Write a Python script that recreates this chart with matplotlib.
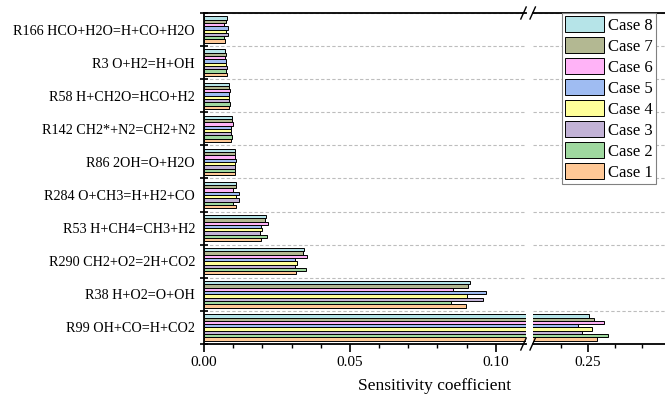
import numpy as np
import matplotlib.pyplot as plt
from matplotlib.lines import Line2D
from matplotlib.ticker import FixedLocator

plt.rcParams["font.family"] = ["Liberation Serif", "DejaVu Serif"]

# bottom -> top
REACTIONS = ["R99 OH+CO=H+CO2", "R38 H+O2=O+OH", "R290 CH2+O2=2H+CO2",
             "R53 H+CH4=CH3+H2", "R284 O+CH3=H+H2+CO", "R86 2OH=O+H2O",
             "R142 CH2*+N2=CH2+N2", "R58 H+CH2O=HCO+H2", "R3 O+H2=H+OH",
             "R166 HCO+H2O=H+CO+H2O"]

case1 = [0.2535, 0.0897, 0.0315, 0.0195, 0.0110, 0.0106, 0.0092, 0.0086, 0.0079, 0.0072]
case2 = [0.2576, 0.0846, 0.0349, 0.0216, 0.0099, 0.0106, 0.0096, 0.0089, 0.0075, 0.0069]
case3 = [0.2478, 0.0955, 0.0312, 0.0192, 0.0120, 0.0106, 0.0092, 0.0086, 0.0079, 0.0082]
case4 = [0.2515, 0.0901, 0.0318, 0.0199, 0.0110, 0.0106, 0.0092, 0.0086, 0.0074, 0.0074]
case5 = [0.2463, 0.0966, 0.0312, 0.0195, 0.0120, 0.0110, 0.0092, 0.0086, 0.0075, 0.0083]
case6 = [0.2559, 0.0853, 0.0353, 0.0219, 0.0099, 0.0106, 0.0099, 0.0089, 0.0071, 0.0069]
case7 = [0.2522, 0.0904, 0.0339, 0.0209, 0.0110, 0.0106, 0.0096, 0.0086, 0.0075, 0.0075]
case8 = [0.2505, 0.0911, 0.0342, 0.0212, 0.0110, 0.0106, 0.0096, 0.0086, 0.0072, 0.0079]

CASES = [case1, case2, case3, case4, case5, case6, case7, case8]
LABELS = ["Case 1", "Case 2", "Case 3", "Case 4", "Case 5", "Case 6", "Case 7", "Case 8"]
COLORS = ["#FFC896", "#9FD89F", "#C2B2D6", "#FFFF99", "#9FBCF2", "#FFB3F7", "#B3B892", "#B6E4E8"]

W, H = 665, 394
fig = plt.figure(figsize=(W / 100, H / 100), dpi=100)

def px_axes(x0, x1, y0, y1):
    # pixel box (y measured from top) -> axes
    return fig.add_axes([x0 / W, 1 - y1 / H, (x1 - x0) / W, (y1 - y0) / H])

ax1 = px_axes(204, 526, 13, 344)
ax2 = px_axes(533, 668, 13, 344)

y = np.arange(len(REACTIONS))
bh = 0.1
handles = []
for ax in (ax1, ax2):
    for i, (vals, col) in enumerate(zip(CASES, COLORS)):
        b = ax.barh(y - 0.35 + i * bh, vals, height=bh, color=col,
                    edgecolor="black", lw=0.7, zorder=3)
        if ax is ax1:
            handles.append(b)
    ax.set_ylim(-0.5, len(REACTIONS) - 0.5)
    ax.yaxis.set_minor_locator(FixedLocator(np.arange(-0.5, len(REACTIONS), 1.0)))
    ax.grid(which="minor", axis="y", ls=(0, (3, 2)), color="#BDBDBD", lw=0.8, zorder=0)
    for s in ax.spines.values():
        s.set_linewidth(1.3)
    ax.spines["right"].set_visible(False)
    ax.tick_params(axis="x", which="major", direction="out", length=6, width=1.2,
                   labelsize=11, pad=3)
    ax.tick_params(axis="x", which="minor", direction="out", length=3, width=1.0)

ax1.set_xlim(0, (526 - 203.7) / 2920)
ax1.set_xticks([0.0, 0.05, 0.10])
ax1.set_xticklabels(["0.00", "0.05", "0.10"])
ax1.xaxis.set_minor_locator(FixedLocator([0.01, 0.02, 0.03, 0.04, 0.06, 0.07, 0.08, 0.09]))
ax1.set_yticks(y)
ax1.set_yticklabels(REACTIONS, fontsize=10.2)
ax1.tick_params(axis="y", which="major", length=0, pad=6.5)
ax1.tick_params(axis="y", which="minor", direction="inout", length=6, width=1.2)

ax2.set_xlim(0.25 - 54.7 / 2700, 0.25 + 80.3 / 2700)
ax2.set_xticks([0.25])
ax2.set_xticklabels(["0.25"])
ax2.xaxis.set_minor_locator(FixedLocator([0.24, 0.26, 0.27]))
ax2.spines["left"].set_visible(False)
ax2.tick_params(axis="y", which="both", left=False, labelleft=False)

# break marks
for cx in (523.5, 532.7):
    for cy in (13, 344):
        fig.add_artist(Line2D([(cx - 2.7) / W, (cx + 2.7) / W],
                              [1 - (cy + 6) / H, 1 - (cy - 6) / H],
                              color="black", lw=1.0))

fig.text(435 / W, 1 - 389.5 / H, "Sensitivity coefficient", ha="center",
         va="baseline", fontsize=12.5)

leg = fig.legend(handles[::-1], LABELS[::-1], loc="upper left",
                 bbox_to_anchor=(562 / W, 1 - 13 / H), borderaxespad=0,
                 fontsize=12, handlelength=2.3, handleheight=1.1,
                 labelspacing=0.2, handletextpad=0.25, borderpad=0.2,
                 fancybox=False, framealpha=1, edgecolor="#808080")
leg.get_frame().set_linewidth(0.8)

fig.savefig("out.png", dpi=100)
